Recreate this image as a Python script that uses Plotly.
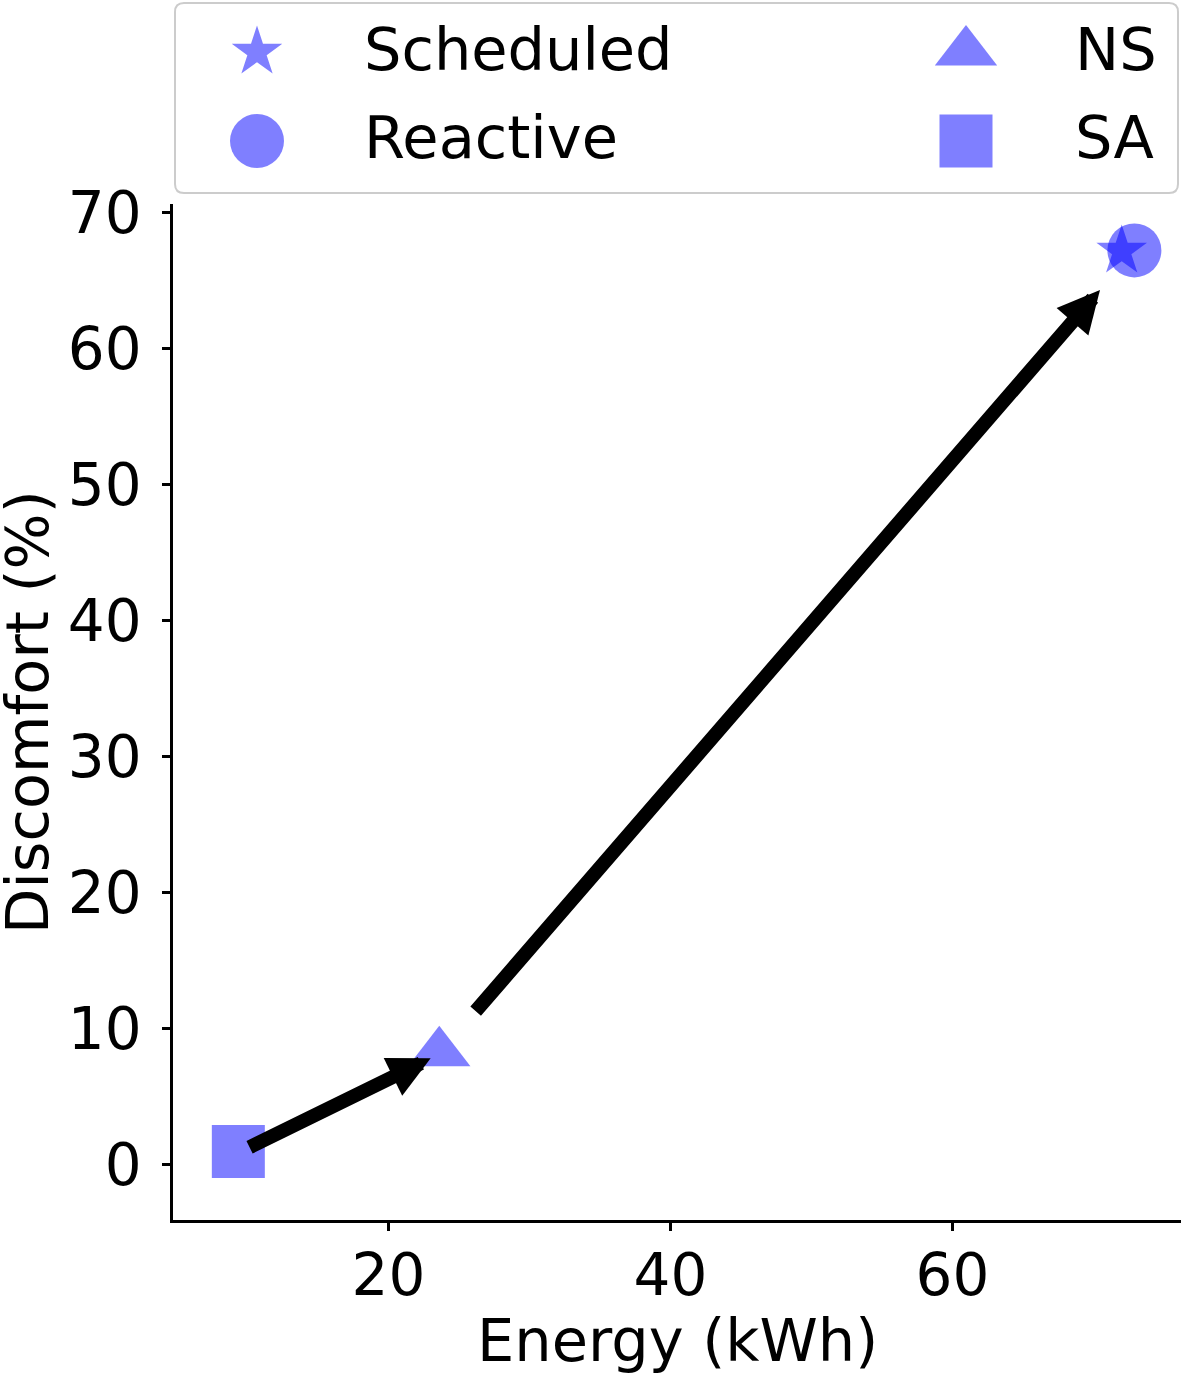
import plotly.graph_objects as go

# ---- data ----
methods = ["Scheduled", "Reactive", "NS", "SA"]
energy = [72.0, 72.9, 23.6, 9.35]          # kWh
discomfort = [67.15, 67.2, 8.2, 0.95]      # %
symbols = ["star", "circle", "triangle-up", "square"]
sizes = [38, 54, 54, 53]

# arrows: (tail -> tip) in data units
arrow_tail_x = [10.04, 26.09]
arrow_tail_y = [1.2, 11.15]
arrow_tip_x = [22.99, 70.46]
arrow_tip_y = [7.79, 64.29]

x_ticks = [20, 40, 60]
y_ticks = [0, 10, 20, 30, 40, 50, 60, 70]

# ---- layout constants (pixels) ----
W, H = 1181, 1376
FONT = "DejaVu Sans"
FS_TICK = 58
FS_TEXT = 59
COLOR = "rgba(0,0,255,0.5)"

def px(x):
    return x / W

def py(y):
    return 1 - y / H

fig = go.Figure()

for m, ex, dc, sym, sz in zip(methods, energy, discomfort, symbols, sizes):
    fig.add_trace(go.Scatter(
        x=[ex], y=[dc], mode="markers", name=m, showlegend=False,
        marker=dict(symbol=sym, size=sz, color=COLOR, line=dict(width=0)),
        xaxis="x", yaxis="y",
    ))

# legend keys drawn on an invisible pixel-space overlay axis
leg_col_x = [257, 966]
leg_row_y = [52, 141]
leg_text_x = [362, 1073]
leg_text_y = [50, 138]
order = [(0, 0), (0, 1), (1, 0), (1, 1)]  # (col,row) for methods
for (c, r), m, sym, sz in zip(order, methods, symbols, sizes):
    fig.add_trace(go.Scatter(
        x=[leg_col_x[c]], y=[leg_row_y[r]], mode="markers", showlegend=False,
        marker=dict(symbol=sym, size=sz, color=COLOR, line=dict(width=0)),
        xaxis="x2", yaxis="y2", hoverinfo="skip",
    ))

annotations = []
for (c, r), m in zip(order, methods):
    annotations.append(dict(
        text=m, x=px(leg_text_x[c]), y=py(leg_text_y[r]), xref="paper", yref="paper",
        xanchor="left", yanchor="middle", showarrow=False,
        font=dict(family=FONT, size=FS_TEXT, color="black"),
    ))

for tx, ty, hx, hy in zip(arrow_tail_x, arrow_tail_y, arrow_tip_x, arrow_tip_y):
    annotations.append(dict(
        x=hx, y=hy, ax=tx, ay=ty, xref="x", yref="y", axref="x", ayref="y",
        text="", showarrow=True, arrowhead=2, arrowwidth=14, arrowsize=0.6,
        arrowcolor="black", standoff=0,
    ))

# axis titles
annotations.append(dict(
    text="Energy (kWh)", x=px(677), y=py(1340), xref="paper", yref="paper",
    xanchor="center", yanchor="middle", showarrow=False,
    font=dict(family=FONT, size=FS_TEXT, color="black"),
))
annotations.append(dict(
    text="Discomfort (%)", x=px(27), y=py(712), xref="paper", yref="paper",
    xanchor="center", yanchor="middle", showarrow=False, textangle=-90,
    font=dict(family=FONT, size=FS_TEXT, color="black"),
))

# legend frame (rounded rectangle)
L, R, T, B, rad = 175, 1178, 3, 193, 9
path = (
    f"M {px(L+rad)} {py(T)} L {px(R-rad)} {py(T)} Q {px(R)} {py(T)} {px(R)} {py(T+rad)} "
    f"L {px(R)} {py(B-rad)} Q {px(R)} {py(B)} {px(R-rad)} {py(B)} "
    f"L {px(L+rad)} {py(B)} Q {px(L)} {py(B)} {px(L)} {py(B-rad)} "
    f"L {px(L)} {py(T+rad)} Q {px(L)} {py(T)} {px(L+rad)} {py(T)} Z"
)
shapes = [dict(type="path", path=path, xref="paper", yref="paper",
               line=dict(color="#cccccc", width=2), fillcolor="rgba(255,255,255,0.8)",
               layer="below")]

# main axis ranges from pixel geometry
x_px20, x_ppu = 388.5, 14.1
y_px0, y_ppu = 1164.3, 13.6
ax_left, ax_right, ax_top, ax_bottom = 173, 1181, 204, 1220

axis_common = dict(
    showline=True, linecolor="black", linewidth=2.5, ticks="outside", ticklen=8,
    tickwidth=2.5, tickcolor="black", showgrid=False, zeroline=False,
    automargin=False,
    tickfont=dict(family=FONT, size=FS_TICK, color="black"),
)

fig.update_layout(
    template="none",
    width=W, height=H, autosize=False,
    margin=dict(l=0, r=0, t=0, b=0, pad=0, autoexpand=False),
    paper_bgcolor="white", plot_bgcolor="rgba(0,0,0,0)",
    xaxis=dict(
        domain=[px(ax_left), 1],
        range=[20 - (x_px20 - ax_left) / x_ppu, 20 + (ax_right - x_px20) / x_ppu],
        tickvals=x_ticks, anchor="y", ticklabelstandoff=-5, **axis_common,
    ),
    yaxis=dict(
        domain=[py(ax_bottom), py(ax_top)],
        range=[-(ax_bottom - y_px0) / y_ppu, (y_px0 - ax_top) / y_ppu],
        tickvals=y_ticks, anchor="x", ticklabelstandoff=9, **axis_common,
    ),
    xaxis2=dict(domain=[0, 1], range=[0, W], visible=False, anchor="y2",
                fixedrange=True, automargin=False),
    yaxis2=dict(domain=[0, 1], range=[H, 0], visible=False, anchor="x2",
                fixedrange=True, automargin=False),
    annotations=annotations,
    shapes=shapes,
    showlegend=False,
)

fig.write_html("out.html", config={"displayModeBar": False},
               post_script="document.body.style.margin='0';")
